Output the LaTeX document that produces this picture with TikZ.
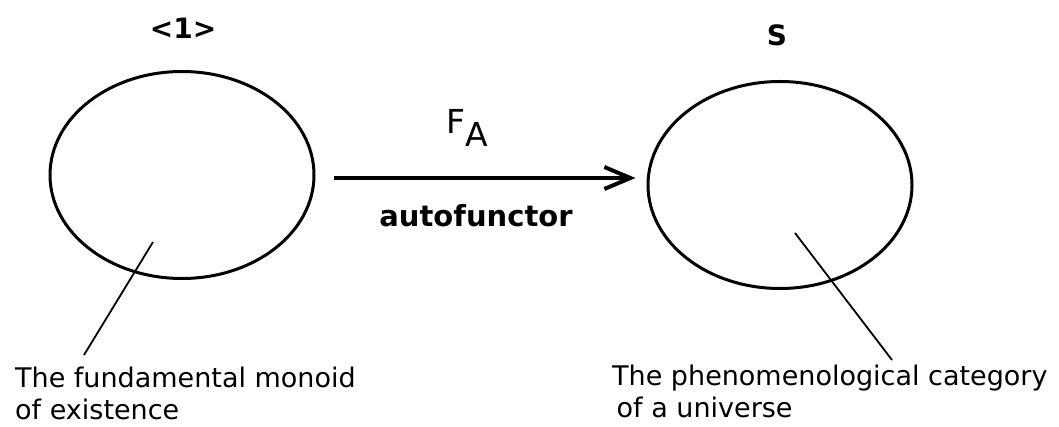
\documentclass[tikz,border=0pt]{standalone}
\usepackage{fontspec}
\setmainfont{DejaVu Sans}
\usetikzlibrary{shapes.geometric,arrows.meta}

\tikzset{
  cat/.style={draw,ellipse,line width=3pt,inner sep=0pt,minimum width=264pt,minimum height=207pt},
  caption/.style={align=left,anchor=north west,inner sep=0pt,font=\fontsize{27}{32}\selectfont},
  catname/.style={inner sep=0pt,font=\bfseries\fontsize{28}{32}\selectfont},
  pointer/.style={line width=1.8pt},
  functor/.style={line width=4pt,-{Straight Barb[length=26pt,width=22pt,line width=4pt]}}
}

\begin{document}
\begin{tikzpicture}[x=1pt,y=-1pt]
            \useasboundingbox (0,0) rectangle (1059,427);

            \node[cat] (monoid) at (182,175) {};
            \node[cat] (category) at (780,185) {};

            \node[catname] (one) at (183,28) {<1>};
            \node[catname] (s) at (777,35) {S};

            \coordinate (mtip) at (153,242);
            \coordinate (ctip) at (795,233);
            \node[caption] (mtext) at (15,367) {The fundamental monoid\\of existence};
            \node[caption] (ctext) at (612,365) {The phenomenological category\\ \,of a universe};

            \draw[pointer] (mtip) -- (84,355);
            \draw[pointer] (ctip) -- (892,360);

            \draw[functor] ([shift={(18,3)}]monoid.east) -- ([shift={(-11,-7)}]category.west);

            \node[anchor=base west,inner sep=0pt,font=\fontsize{33}{36}\selectfont] (fa) at (446,134) {F\raisebox{-13pt}{A}};
            \node[anchor=base,inner sep=0pt,font=\bfseries\fontsize{29}{32}\selectfont] (auto) at (476,227) {autofunctor};
\end{tikzpicture}
\end{document}
